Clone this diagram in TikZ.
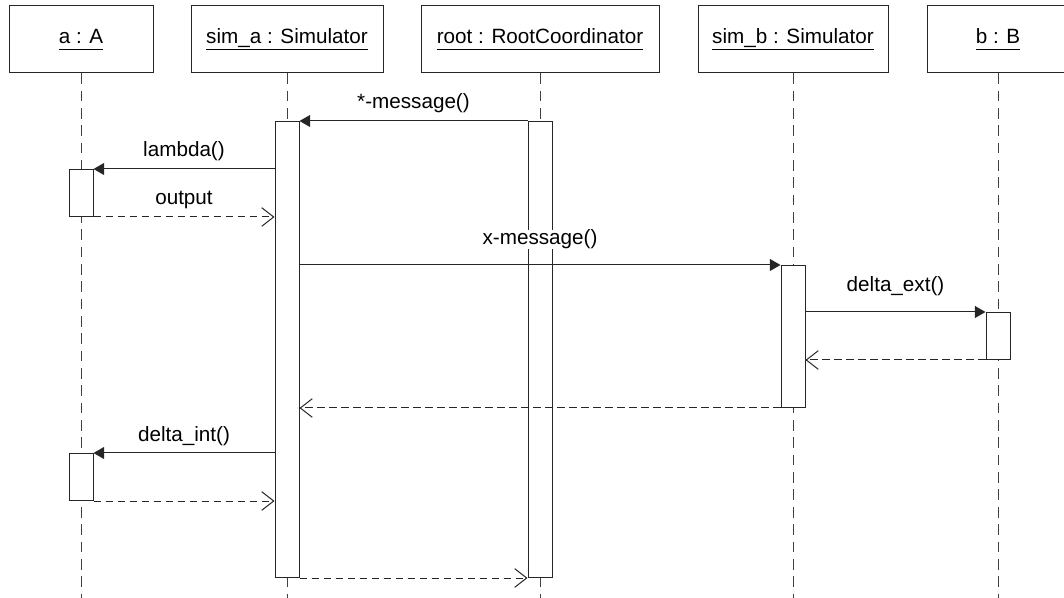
\documentclass[tikz,border=0pt]{standalone}
\usepackage{fontspec}
\setmainfont{Liberation Sans}
\usetikzlibrary{arrows.meta}
\newcommand{\uname}[1]{\setbox0=\hbox{#1}\rlap{\rule[-4.5pt]{\wd0}{0.75pt}}\box0}

\begin{document}
\begin{tikzpicture}[
                x=0.75pt, y=-0.75pt,
                font=\fontsize{15.5pt}{18pt}\selectfont,
                object/.style={rectangle, draw=black!85, line width=0.75pt, minimum height=50.25pt, inner sep=0pt, fill=white},
                lifeline/.style={draw=black!75, line width=0.75pt, dash pattern=on 8pt off 5pt},
                activation/.style={rectangle, draw=black!85, line width=0.75pt, fill=white, minimum width=18pt, inner sep=0pt, anchor=north},
                call/.style={draw=black!85, line width=0.75pt, -{Triangle[length=8pt,width=9pt]}},
                reply/.style={draw=black!85, line width=0.75pt, dash pattern=on 5.5pt off 3.5pt, -{Straight Barb[length=9pt,width=14pt]}},
                msglabel/.style={anchor=base, yshift=9pt, inner sep=0pt, fill=white},
            ]
            \useasboundingbox (0,0) rectangle (1064,598);
            \coordinate (bottom) at (0,598);

            \node[object, minimum width=108pt]   (a)    at (81,39.5)  {\uname{a : A}};
            \node[object, minimum width=144pt]   (sima) at (287,39.5) {\uname{sim\_a : Simulator}};
            \node[object, minimum width=178.5pt] (root) at (540,39.5) {\uname{root : RootCoordinator}};
            \node[object, minimum width=142.5pt] (simb) at (793,39.5) {\uname{sim\_b : Simulator}};
            \node[object, minimum width=106.5pt] (b)    at (998,39.5) {\uname{b : B}};

            \foreach \o in {a,sima,root,simb,b}
            \draw[lifeline] (\o.south) -- (\o.south |- bottom);

            \node[activation, minimum height=342pt]   (actSA)   at (287,121) {};
            \node[activation, minimum height=342pt]   (actRoot) at (540,121) {};
            \node[activation, minimum height=35.25pt] (actA1)   at (81,169)  {};
            \node[activation, minimum height=35.25pt] (actA2)   at (81,453)  {};
            \node[activation, minimum height=106.5pt] (actSB)   at (793,265) {};
            \node[activation, minimum height=35.25pt] (actB)    at (998,312) {};

            \draw[call] (actRoot.north west) -- node[msglabel]{*-message()} (actSA.north east);
            \draw[call] (actSA.west |- actA1.north) -- node[msglabel]{lambda()} (actA1.north east);
            \draw[reply] (actA1.south east) -- node[msglabel]{output} (actSA.west |- actA1.south);
            \draw[call] (actSA.east |- actSB.north) -- node[msglabel, yshift=6pt]{x-message()} (actSB.north west);
            \draw[call] (actSB.east |- actB.north) -- node[msglabel, yshift=6pt]{delta\_ext()} (actB.north west);
            \draw[reply] (actB.south west) -- (actSB.east |- actB.south);
            \draw[reply] (actSB.south west) -- (actSA.east |- actSB.south);
            \draw[call] (actSA.west |- actA2.north) -- node[msglabel]{delta\_int()} (actA2.north east);
            \draw[reply] (actA2.south east) -- (actSA.west |- actA2.south);
            \draw[reply] (actSA.south east) -- (actRoot.south west);
        \end{tikzpicture}
\end{document}
